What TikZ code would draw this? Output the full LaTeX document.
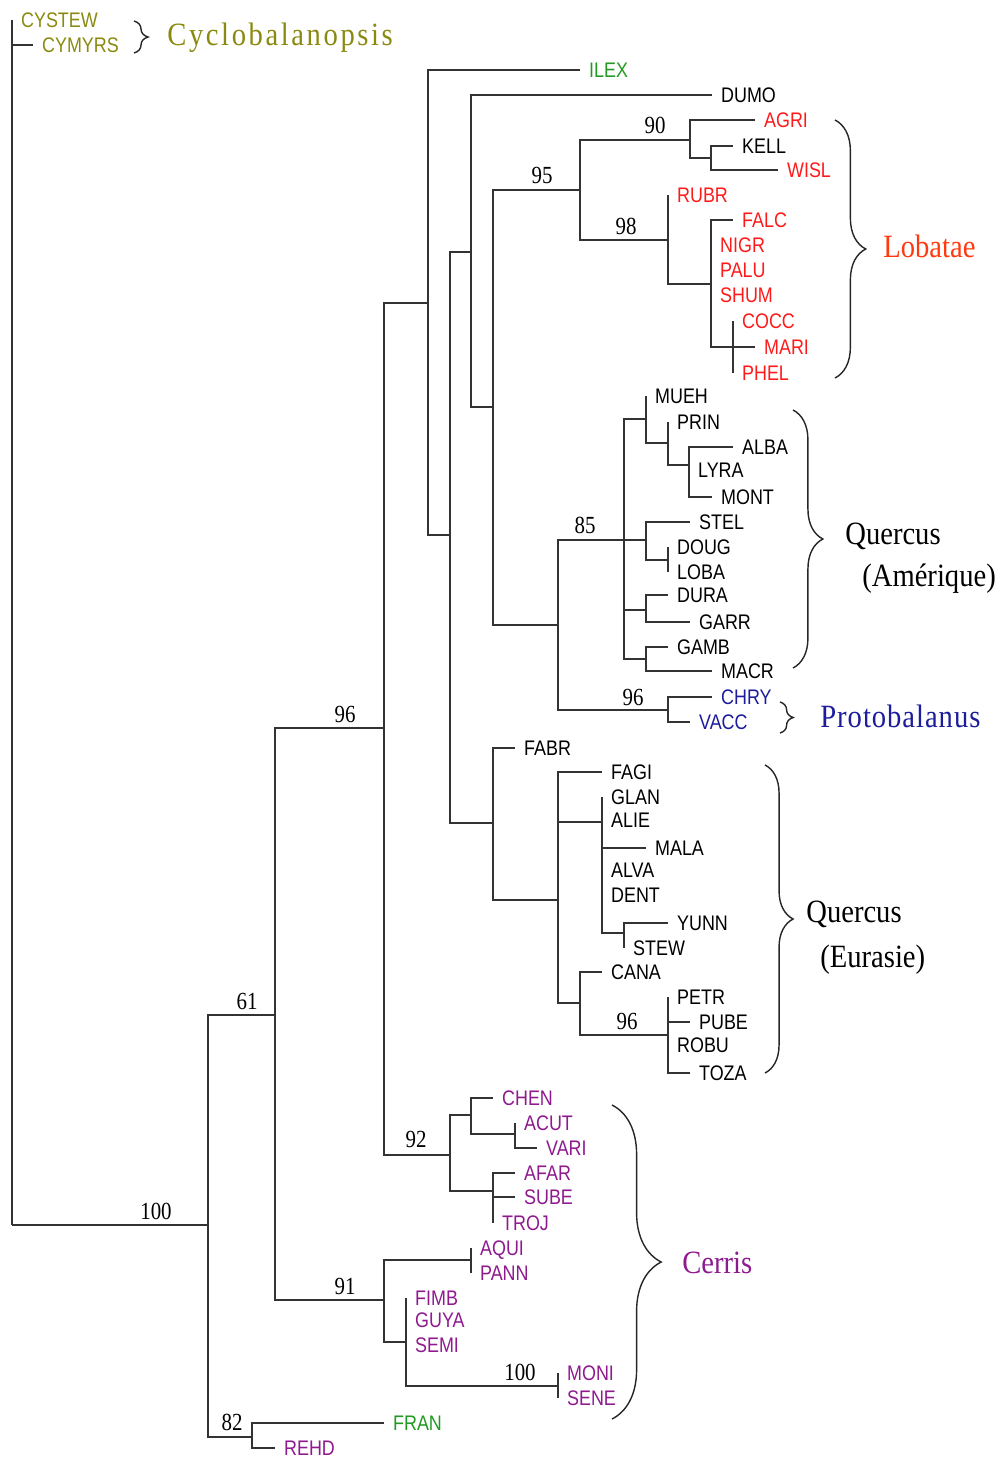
\documentclass[tikz,border=0pt]{standalone}
\usepackage{fontspec}
\setmainfont{Liberation Serif}
\newfontfamily\leaffont[FakeStretch=0.85]{Liberation Sans}
\newfontfamily\bootfont[FakeStretch=0.85]{Liberation Serif}
\newfontfamily\cladefont[FakeStretch=0.88]{Liberation Serif}
\usetikzlibrary{decorations.pathreplacing}

\definecolor{lobred}{HTML}{FF1A1A}
\definecolor{lobtitle}{HTML}{FF3A10}
\definecolor{protoblue}{HTML}{1C1C9C}
\definecolor{cerpurple}{HTML}{8E1A8E}
\definecolor{outgreen}{HTML}{229922}
\definecolor{cycolive}{HTML}{8A8A10}

\tikzset{
  branch/.style={line width=1pt, black!80},
  taxon/.style={anchor=west, inner xsep=5pt, inner ysep=0pt, text height=8.5pt, text depth=0pt,
    font=\leaffont\fontsize{12}{12}\selectfont},
  boot/.style={anchor=base, inner sep=0pt, font=\bootfont\fontsize{14}{14}\selectfont},
  clade/.style={anchor=base west, inner sep=0pt, font=\cladefont\fontsize{18.5}{18.5}\selectfont},
  cladebrace/.style={decorate, decoration={brace, amplitude=#1}, line width=0.8pt, black!85},
}

\begin{document}
\begin{tikzpicture}[x=0.02cm, y=-0.02cm]
  \useasboundingbox (0,0) rectangle (1005,1457);

  % internal nodes
  \coordinate (root) at (12,1225);
  \coordinate (n100) at (208,1225);
  \coordinate (n61) at (275,1015);
  \coordinate (n82) at (252,1437);
  \coordinate (n96a) at (384,728);
  \coordinate (n91) at (384,1300);
  \coordinate (nF) at (428,303);
  \coordinate (n92) at (450,1155);
  \coordinate (nH) at (450,535);
  \coordinate (nI) at (471,252);
  \coordinate (nJ) at (493,823);
  \coordinate (nK) at (493,407);
  \coordinate (n95) at (580,190);
  \coordinate (nM) at (558,625);
  \coordinate (n90) at (690,140);
  \coordinate (n98) at (668,240);
  \coordinate (nP) at (711,158);
  \coordinate (nQ) at (711,284);
  \coordinate (nR) at (733,347);
  \coordinate (n85) at (624,540);
  \coordinate (n96b) at (668,710);
  \coordinate (nU) at (646,419);
  \coordinate (nY) at (668,443);
  \coordinate (nZ) at (689,465);
  \coordinate (nV) at (646,540);
  \coordinate (nVV) at (668,560);
  \coordinate (nW) at (646,610);
  \coordinate (nX) at (646,659);
  \coordinate (nAA) at (558,900);
  \coordinate (nAB) at (602,822);
  \coordinate (nAD) at (624,933);
  \coordinate (nAC) at (580,1003);
  \coordinate (n96c) at (668,1035);
  \coordinate (nAF) at (471,1115);
  \coordinate (nAH) at (515,1134);
  \coordinate (nAG) at (493,1191);
  \coordinate (nAI) at (471,1260);
  \coordinate (nAJ) at (406,1342);
  \coordinate (n100b) at (558,1386);

  % taxa
  \node[taxon, cycolive] (cystew) at (12,20) {CYSTEW};
  \node[taxon, cycolive] (cymyrs) at (33,45) {CYMYRS};
  \node[taxon, outgreen] (ilex) at (580,70) {ILEX};
  \node[taxon] (dumo) at (712,95) {DUMO};
  \node[taxon, lobred] (agri) at (755,120) {AGRI};
  \node[taxon] (kell) at (733,146) {KELL};
  \node[taxon, lobred] (wisl) at (778,170) {WISL};
  \node[taxon, lobred] (rubr) at (668,195) {RUBR};
  \node[taxon, lobred] (falc) at (733,220) {FALC};
  \node[taxon, lobred] (nigr) at (711,245) {NIGR};
  \node[taxon, lobred] (palu) at (711,270) {PALU};
  \node[taxon, lobred] (shum) at (711,295) {SHUM};
  \node[taxon, lobred] (cocc) at (733,321) {COCC};
  \node[taxon, lobred] (mari) at (755,347) {MARI};
  \node[taxon, lobred] (phel) at (733,373) {PHEL};
  \node[taxon] (mueh) at (646,396) {MUEH};
  \node[taxon] (prin) at (668,422) {PRIN};
  \node[taxon] (alba) at (733,447) {ALBA};
  \node[taxon] (lyra) at (689,470) {LYRA};
  \node[taxon] (mont) at (712,497) {MONT};
  \node[taxon] (stel) at (690,522) {STEL};
  \node[taxon] (doug) at (668,547) {DOUG};
  \node[taxon] (loba) at (668,572) {LOBA};
  \node[taxon] (dura) at (668,595) {DURA};
  \node[taxon] (garr) at (690,622) {GARR};
  \node[taxon] (gamb) at (668,647) {GAMB};
  \node[taxon] (macr) at (712,671) {MACR};
  \node[taxon, protoblue] (chry) at (712,697) {CHRY};
  \node[taxon, protoblue] (vacc) at (690,722) {VACC};
  \node[taxon] (fabr) at (515,748) {FABR};
  \node[taxon] (fagi) at (602,772) {FAGI};
  \node[taxon] (glan) at (602,797) {GLAN};
  \node[taxon] (alie) at (602,820) {ALIE};
  \node[taxon] (mala) at (646,848) {MALA};
  \node[taxon] (alva) at (602,870) {ALVA};
  \node[taxon] (dent) at (602,895) {DENT};
  \node[taxon] (yunn) at (668,923) {YUNN};
  \node[taxon] (stew) at (624,948) {STEW};
  \node[taxon] (cana) at (602,972) {CANA};
  \node[taxon] (petr) at (668,997) {PETR};
  \node[taxon] (pube) at (690,1022) {PUBE};
  \node[taxon] (robu) at (668,1045) {ROBU};
  \node[taxon] (toza) at (690,1073) {TOZA};
  \node[taxon, cerpurple] (chen) at (493,1098) {CHEN};
  \node[taxon, cerpurple] (acut) at (515,1123) {ACUT};
  \node[taxon, cerpurple] (vari) at (537,1148) {VARI};
  \node[taxon, cerpurple] (afar) at (515,1173) {AFAR};
  \node[taxon, cerpurple] (sube) at (515,1197) {SUBE};
  \node[taxon, cerpurple] (troj) at (493,1223) {TROJ};
  \node[taxon, cerpurple] (aqui) at (471,1248) {AQUI};
  \node[taxon, cerpurple] (pann) at (471,1273) {PANN};
  \node[taxon, cerpurple] (fimb) at (406,1298) {FIMB};
  \node[taxon, cerpurple] (guya) at (406,1320) {GUYA};
  \node[taxon, cerpurple] (semi) at (406,1345) {SEMI};
  \node[taxon, cerpurple] (moni) at (558,1373) {MONI};
  \node[taxon, cerpurple] (sene) at (558,1398) {SENE};
  \node[taxon, outgreen] (fran) at (384,1423) {FRAN};
  \node[taxon, cerpurple] (rehd) at (275,1448) {REHD};

  % branches
  \draw[branch] (root) |- (cystew) (root) |- (cymyrs) (root) |- (n100);
  \draw[branch] (n100) |- (n61) (n100) |- (n82);
  \draw[branch] (n61) |- (n96a) (n61) |- (n91);
  \draw[branch] (n96a) |- (nF) (n96a) |- (n92);
  \draw[branch] (nF) |- (ilex) (nF) |- (nH);
  \draw[branch] (nH) |- (nI) (nH) |- (nJ);
  \draw[branch] (nI) |- (dumo) (nI) |- (nK);
  \draw[branch] (nK) |- (n95) (nK) |- (nM);
  \draw[branch] (n95) |- (n90) (n95) |- (n98);
  \draw[branch] (n90) |- (agri) (n90) |- (nP);
  \draw[branch] (nP) |- (kell) (nP) |- (wisl);
  \draw[branch] (n98) |- (rubr) (n98) |- (nQ);
  \draw[branch] (nQ) |- (falc) (nQ) |- (nigr) (nQ) |- (palu) (nQ) |- (shum) (nQ) |- (nR);
  \draw[branch] (nR) |- (cocc) (nR) |- (mari) (nR) |- (phel);
  \draw[branch] (nM) |- (n85) (nM) |- (n96b);
  \draw[branch] (n85) |- (nU) (n85) |- (nV) (n85) |- (nW) (n85) |- (nX);
  \draw[branch] (nU) |- (mueh) (nU) |- (nY);
  \draw[branch] (nY) |- (prin) (nY) |- (nZ);
  \draw[branch] (nZ) |- (alba) (nZ) |- (lyra) (nZ) |- (mont);
  \draw[branch] (nV) |- (stel) (nV) |- (nVV);
  \draw[branch] (nVV) |- (doug) (nVV) |- (loba);
  \draw[branch] (nW) |- (dura) (nW) |- (garr);
  \draw[branch] (nX) |- (gamb) (nX) |- (macr);
  \draw[branch] (n96b) |- (chry) (n96b) |- (vacc);
  \draw[branch] (nJ) |- (fabr) (nJ) |- (nAA);
  \draw[branch] (nAA) |- (fagi) (nAA) |- (nAB) (nAA) |- (nAC);
  \draw[branch] (nAB) |- (glan) (nAB) |- (alie) (nAB) |- (mala) (nAB) |- (alva) (nAB) |- (dent) (nAB) |- (nAD);
  \draw[branch] (nAD) |- (yunn) (nAD) |- (stew);
  \draw[branch] (nAC) |- (cana) (nAC) |- (n96c);
  \draw[branch] (n96c) |- (petr) (n96c) |- (pube) (n96c) |- (robu) (n96c) |- (toza);
  \draw[branch] (n92) |- (nAF) (n92) |- (nAG);
  \draw[branch] (nAF) |- (chen) (nAF) |- (nAH);
  \draw[branch] (nAH) |- (acut) (nAH) |- (vari);
  \draw[branch] (nAG) |- (afar) (nAG) |- (sube) (nAG) |- (troj);
  \draw[branch] (n91) |- (nAI) (n91) |- (nAJ);
  \draw[branch] (nAI) |- (aqui) (nAI) |- (pann);
  \draw[branch] (nAJ) |- (fimb) (nAJ) |- (guya) (nAJ) |- (semi) (nAJ) |- (n100b);
  \draw[branch] (n100b) |- (moni) (n100b) |- (sene);
  \draw[branch] (n82) |- (fran) (n82) |- (rehd);

  % bootstrap values
  \node[boot] (b100) at (156,1219) {100};
  \node[boot] (b61) at (247,1009) {61};
  \node[boot] (b96a) at (345,722) {96};
  \node[boot] (b91) at (345,1294) {91};
  \node[boot] (b92) at (416,1147) {92};
  \node[boot] (b95) at (542,183) {95};
  \node[boot] (b90) at (655,133) {90};
  \node[boot] (b98) at (626,234) {98};
  \node[boot] (b85) at (585,533) {85};
  \node[boot] (b96b) at (633,705) {96};
  \node[boot] (b96c) at (627,1029) {96};
  \node[boot] (b100b) at (520,1380) {100};
  \node[boot] (b82) at (232,1430) {82};

  % clades
  \draw[cladebrace=8pt] (134,21) -- (134,53);
  \draw[cladebrace=17.5pt] (835,120) -- (835,378);
  \draw[cladebrace=17pt] (793,410) -- (793,668);
  \draw[cladebrace=7.5pt] (780,702) -- (780,733);
  \draw[cladebrace=16pt] (765,765) -- (765,1073);
  \draw[cladebrace=28pt] (612,1105) -- (612,1419);
  \node[clade, cycolive] (cyclo) at (167,45) {\addfontfeature{LetterSpace=8}Cyclobalanopsis};
  \node[clade, lobtitle] (lobatae) at (883,257) {Lobatae};
  \node[clade] (quercusam) at (845,544) {Quercus};
  \node[clade] (amerique) at (862,586) {(Amérique)};
  \node[clade, protoblue] (proto) at (820,727) {\addfontfeature{LetterSpace=3}Protobalanus};
  \node[clade] (quercuseu) at (806,922) {Quercus};
  \node[clade] (eurasie) at (820,967) {(Eurasie)};
  \node[clade, cerpurple] (cerris) at (682,1273) {Cerris};
\end{tikzpicture}
\end{document}
